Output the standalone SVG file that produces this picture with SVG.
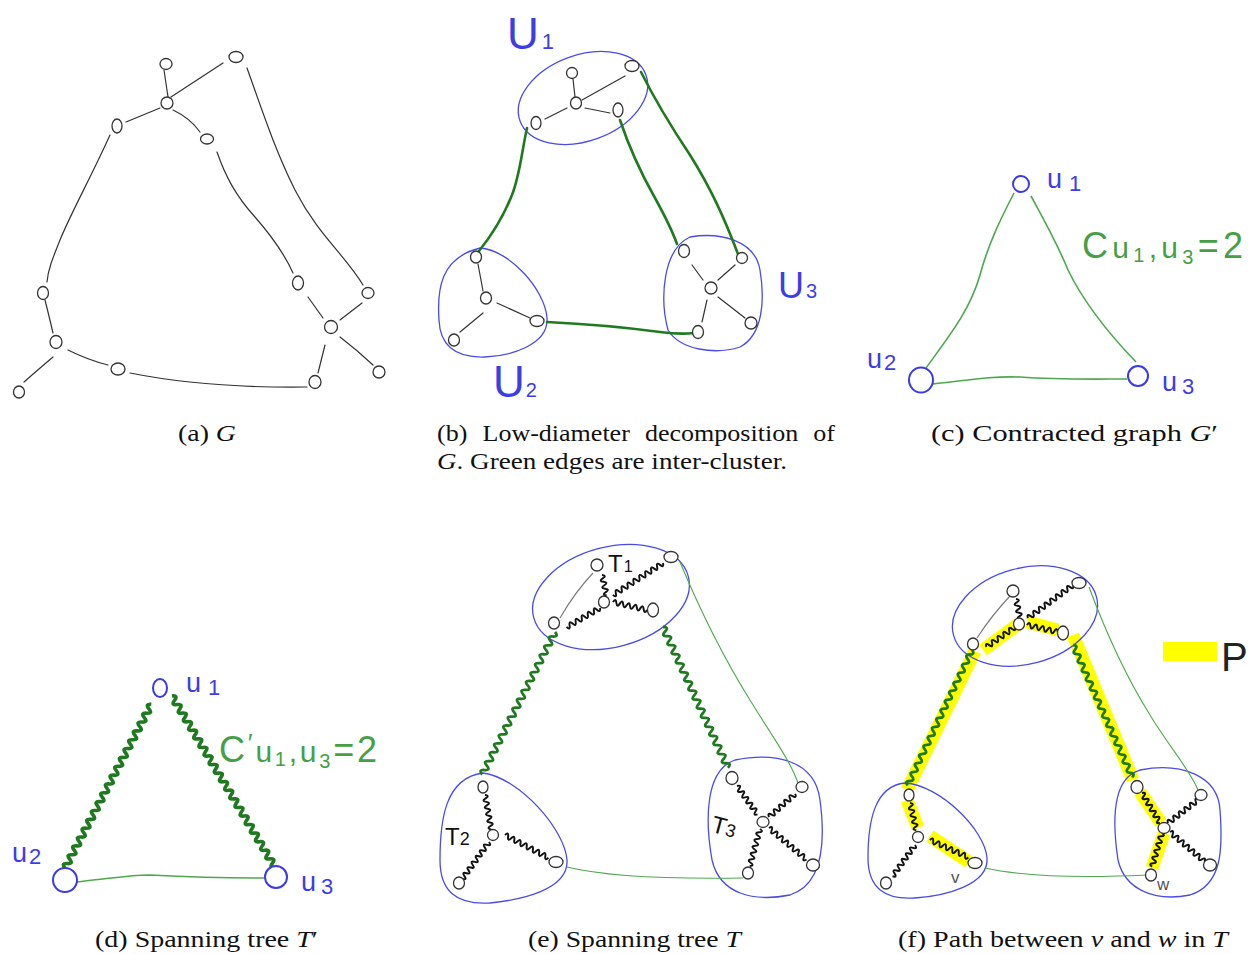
<svg xmlns="http://www.w3.org/2000/svg" width="1248" height="954" viewBox="0 0 1248 954">
<style>
.n{fill:#fff;stroke:#333;stroke-width:1.3}
.e{fill:none;stroke:#333;stroke-width:1.2;stroke-linecap:round}
.grey{fill:none;stroke:#777;stroke-width:1.1}
.cl{fill:none;stroke:#4b4be6;stroke-width:1.3}
.gd{fill:none;stroke:#1f7a1f;stroke-width:2.6;stroke-linecap:round}
.gt{fill:none;stroke:#4ea84e;stroke-width:1.6}
.gtt{fill:none;stroke:#4ea84e;stroke-width:1.1}
.gw{fill:none;stroke:#1f7a1f;stroke-width:3.6;stroke-linejoin:round}
.gw2{fill:none;stroke:#1f7a1f;stroke-width:2.8;stroke-linejoin:round}
.bw{fill:none;stroke:#111;stroke-width:2;stroke-linejoin:round}
.hl{fill:none;stroke:#ffff00;stroke-width:13}
.bn{fill:#fff;stroke:#3a3ae8;stroke-width:2}
.hand{font-family:"Liberation Sans",sans-serif}
.blue{fill:#3d3de8}
.green{fill:#45a045}
.blk{fill:#111}
.cap{font-family:"Liberation Serif",serif;font-size:24px;fill:#111}
</style>

<!-- ===== Panel (a) ===== -->
<g id="panel-a">
  <g id="a-connectors">
    <path class="e" d="M164,70 L168,97"/>
    <path class="e" d="M171,97 L223,63"/>
    <path class="e" d="M160,108 L126,122"/>
    <path class="e" d="M173,110 Q190,118 200,132"/>
    <path class="e" d="M247,68 C262,110 275,150 295,190 C318,235 345,255 363,285"/>
    <path class="e" d="M217,152 C225,175 235,195 255,217 C275,240 285,255 293,273"/>
    <path class="e" d="M110,135 C92,175 70,215 60,240 C52,260 48,270 47,282"/>
    <path class="e" d="M45,300 Q50,320 53,333"/>
    <path class="e" d="M53,357 Q40,368 24,382"/>
    <path class="e" d="M68,350 Q88,360 108,365"/>
    <path class="e" d="M130,373 C175,382 230,388 307,387"/>
    <path class="e" d="M318,373 L325,345"/>
    <path class="e" d="M323,318 L308,297"/>
    <path class="e" d="M340,320 L362,303"/>
    <path class="e" d="M340,337 Q357,350 373,365"/>
  </g>
  <g id="a-n1"><ellipse class="n" cx="236" cy="57" rx="7" ry="5.5"/></g>
  <g id="a-n2"><ellipse class="n" cx="166" cy="64" rx="6" ry="5.5"/></g>
  <g id="a-n3"><ellipse class="n" cx="167" cy="103" rx="6" ry="6"/></g>
  <g id="a-n4"><ellipse class="n" cx="117" cy="126" rx="5" ry="7"/></g>
  <g id="a-n5"><ellipse class="n" cx="207" cy="139" rx="6.5" ry="5"/></g>
  <g id="a-n6"><ellipse class="n" cx="43" cy="293" rx="5.5" ry="6.5"/></g>
  <g id="a-n7"><ellipse class="n" cx="56" cy="342" rx="6" ry="6.5"/></g>
  <g id="a-n8"><ellipse class="n" cx="19" cy="392" rx="5.5" ry="6"/></g>
  <g id="a-n9"><ellipse class="n" cx="118" cy="369" rx="7" ry="6"/></g>
  <g id="a-n10"><ellipse class="n" cx="315" cy="382" rx="6" ry="6.5"/></g>
  <g id="a-n11"><ellipse class="n" cx="331" cy="327" rx="6.5" ry="6.5"/></g>
  <g id="a-n12"><ellipse class="n" cx="298" cy="283" rx="5.5" ry="7"/></g>
  <g id="a-n13"><ellipse class="n" cx="368" cy="293" rx="6" ry="5.5"/></g>
  <g id="a-n14"><ellipse class="n" cx="379" cy="372" rx="6" ry="6"/></g>
</g>

<!-- ===== Panel (b) ===== -->
<g id="panel-b">
  <g id="b-clusters">
    <ellipse class="cl" cx="583" cy="98" rx="67" ry="43" transform="rotate(-20 583 98)"/>
    <path class="cl" d="M480,248 C510,250 545,290 547,318 C549,345 510,356 485,357 C455,358 440,345 439,320 C437,290 440,258 480,248 Z"/>
    <path class="cl" d="M690,237 C720,232 755,240 760,270 C765,300 763,335 740,347 C715,355 680,350 668,330 C660,300 662,250 690,237 Z"/>
  </g>
  <g id="b-connectors">
    <path class="e" d="M573,79 L575,97"/>
    <path class="e" d="M582,100 L625,76"/>
    <path class="e" d="M585,108 L610,113"/>
    <path class="e" d="M567,108 L545,119"/>
    <path class="e" d="M478,264 L483,291"/>
    <path class="e" d="M497,303 L530,318"/>
    <path class="e" d="M483,313 L460,332"/>
    <path class="e" d="M692,265 L703,280"/>
    <path class="e" d="M735,265 L718,280"/>
    <path class="e" d="M707,300 L702,322"/>
    <path class="e" d="M718,297 L745,318"/>
    <path class="gd" d="M527,128 C522,150 520,175 512,195 C502,220 492,235 479,251"/>
    <path class="gd" d="M620,120 C630,150 642,175 655,198 C666,218 672,230 677,244"/>
    <path class="gd" d="M641,72 C655,100 670,125 690,155 C712,190 725,220 738,254"/>
    <path class="gd" d="M547,322 C590,324 630,328 660,332 C675,334 685,334 694,333"/>
  </g>
  <g id="b-n1"><ellipse class="n" cx="572" cy="73" rx="5.5" ry="5.5"/></g>
  <g id="b-n2"><ellipse class="n" cx="576" cy="103" rx="5.5" ry="6"/></g>
  <g id="b-n3"><ellipse class="n" cx="632" cy="66" rx="7" ry="5.5"/></g>
  <g id="b-n4"><ellipse class="n" cx="618" cy="110" rx="5" ry="7"/></g>
  <g id="b-n5"><ellipse class="n" cx="536" cy="123" rx="5" ry="6.5"/></g>
  <g id="b-n6"><ellipse class="n" cx="476" cy="257" rx="5.5" ry="6"/></g>
  <g id="b-n7"><ellipse class="n" cx="486" cy="298" rx="5.5" ry="6"/></g>
  <g id="b-n8"><ellipse class="n" cx="537" cy="321" rx="7" ry="5.5"/></g>
  <g id="b-n9"><ellipse class="n" cx="454" cy="340" rx="5.5" ry="6"/></g>
  <g id="b-n10"><ellipse class="n" cx="684" cy="251" rx="5.5" ry="6.5"/></g>
  <g id="b-n11"><ellipse class="n" cx="742" cy="258" rx="5.5" ry="5.5"/></g>
  <g id="b-n12"><ellipse class="n" cx="711" cy="288" rx="6" ry="6"/></g>
  <g id="b-n13"><ellipse class="n" cx="698" cy="332" rx="5.5" ry="6.5"/></g>
  <g id="b-n14"><ellipse class="n" cx="751" cy="323" rx="6" ry="6"/></g>
  <g id="b-labels">
    <text class="hand blue" x="507" y="49" font-size="44">U<tspan font-size="22" dx="3">1</tspan></text>
    <text class="hand blue" x="493" y="397" font-size="44">U<tspan font-size="20" dx="1">2</tspan></text>
    <text class="hand blue" x="778" y="298" font-size="36">U<tspan font-size="20" dx="2">3</tspan></text>
  </g>
</g>

<!-- ===== Panel (c) ===== -->
<g id="panel-c">
  <g id="c-connectors">
    <path class="gt" d="M1014,193 C1000,220 988,245 980,275 C970,310 950,335 926,368"/>
    <path class="gt" d="M1031,196 C1045,222 1058,245 1068,270 C1085,305 1110,335 1136,362"/>
    <path class="gt" d="M933,384 C970,380 990,376 1020,377 C1060,380 1100,379 1127,379"/>
  </g>
  <g id="c-u1"><circle class="bn" cx="1021" cy="184" r="8"/></g>
  <g id="c-u2"><ellipse class="bn" cx="921" cy="380" rx="12" ry="12.5"/></g>
  <g id="c-u3"><circle class="bn" cx="1138" cy="376" r="10"/></g>
  <g id="c-labels">
    <text class="hand blue" x="1047" y="188" font-size="27">u<tspan font-size="22" dx="7" dy="3">1</tspan></text>
    <text class="hand blue" x="867" y="368" font-size="27">u<tspan font-size="22" dx="2" dy="2">2</tspan></text>
    <text class="hand blue" x="1162" y="391" font-size="27">u<tspan font-size="22" dx="5" dy="3">3</tspan></text>
    <text class="hand green" x="1082" y="258" font-size="36" textLength="161" lengthAdjust="spacing">C<tspan font-size="30">u</tspan><tspan font-size="20" dy="4">1</tspan><tspan font-size="30" dy="-4">,u</tspan><tspan font-size="20" dy="6">3</tspan><tspan dy="-6">=2</tspan></text>
  </g>
</g>

<!-- ===== Panel (d) ===== -->
<g id="panel-d">
  <g id="d-connectors">
    <path class="gw" transform="translate(65,868) rotate(-62.2)" d="M0,0 q2.5,-6 5,0 t5,0 t5,0 t5,0 t5,0 t5,0 t5,0 t5,0 t5,0 t5,0 t5,0 t5,0 t5,0 t5,0 t5,0 t5,0 t5,0 t5,0 t5,0 t5,0 t5,0 t5,0 t5,0 t5,0 t5,0 t5,0 t5,0 t5,0 t5,0 t5,0 t5,0 t5,0 t5,0 t5,0 t5,0 t5,0 t5,0"/>
    <path class="gw" transform="translate(172,696) rotate(59)" d="M0,0 q2.5,-6 5,0 t5,0 t5,0 t5,0 t5,0 t5,0 t5,0 t5,0 t5,0 t5,0 t5,0 t5,0 t5,0 t5,0 t5,0 t5,0 t5,0 t5,0 t5,0 t5,0 t5,0 t5,0 t5,0 t5,0 t5,0 t5,0 t5,0 t5,0 t5,0 t5,0 t5,0 t5,0 t5,0 t5,0 t5,0 t5,0 t5,0 t5,0 t5,0 t5,0"/>
    <path class="gt" d="M77,882 C105,879 130,875 150,875 C190,877 230,878 264,878"/>
  </g>
  <g id="d-u1"><ellipse class="bn" cx="160" cy="688" rx="7" ry="9"/></g>
  <g id="d-u2"><circle class="bn" cx="65" cy="880" r="12"/></g>
  <g id="d-u3"><circle class="bn" cx="276" cy="877" r="11"/></g>
  <g id="d-labels">
    <text class="hand blue" x="186" y="692" font-size="27">u<tspan font-size="22" dx="7" dy="3">1</tspan></text>
    <text class="hand blue" x="12" y="862" font-size="27">u<tspan font-size="22" dx="2" dy="2">2</tspan></text>
    <text class="hand blue" x="301" y="891" font-size="27">u<tspan font-size="22" dx="5" dy="3">3</tspan></text>
    <text class="hand green" x="219" y="762" font-size="36" textLength="158" lengthAdjust="spacing">C<tspan font-size="26" dy="-10">′</tspan><tspan font-size="30" dy="10">u</tspan><tspan font-size="20" dy="4">1</tspan><tspan font-size="30" dy="-4">,u</tspan><tspan font-size="20" dy="6">3</tspan><tspan dy="-6">=2</tspan></text>
  </g>
</g>

<!-- ===== Panel (e) ===== -->
<g id="panel-e">
  <g id="e-clusters">
    <ellipse class="cl" cx="611" cy="597" rx="80" ry="50" transform="rotate(-15 611 597)"/>
    <path class="cl" d="M483,773 C520,778 565,830 567,860 C569,890 520,900 490,903 C455,905 440,890 440,860 C440,820 445,778 483,773 Z"/>
    <path class="cl" d="M735,760 C775,752 815,760 820,800 C826,845 822,885 790,895 C755,902 720,895 712,860 C705,820 705,770 735,760 Z"/>
  </g>
  <g id="e-connectors">
    <path class="grey" d="M593,573 Q575,592 560,618"/>
    <path class="bw" transform="translate(602,575) rotate(77.2)" d="M0,0 q1.75,-5 3.5,0 t3.5,0 t3.5,0 t3.5,0 t3.5,0 t3.5,0"/>
    <path class="bw" transform="translate(600,608) rotate(150.3)" d="M0,0 q1.75,-5 3.5,0 t3.5,0 t3.5,0 t3.5,0 t3.5,0 t3.5,0 t3.5,0 t3.5,0 t3.5,0 t3.5,0 t3.5,0"/>
    <path class="bw" transform="translate(663,563) rotate(147.4)" d="M0,0 q1.75,-5 3.5,0 t3.5,0 t3.5,0 t3.5,0 t3.5,0 t3.5,0 t3.5,0 t3.5,0 t3.5,0 t3.5,0 t3.5,0 t3.5,0 t3.5,0 t3.5,0 t3.5,0 t3.5,0 t3.5,0"/>
    <path class="bw" transform="translate(613,602) rotate(13.2)" d="M0,0 q1.75,-5 3.5,0 t3.5,0 t3.5,0 t3.5,0 t3.5,0 t3.5,0 t3.5,0 t3.5,0 t3.5,0 t3.5,0"/>
    <path class="bw" transform="translate(485,795) rotate(79.7)" d="M0,0 q1.75,-5 3.5,0 t3.5,0 t3.5,0 t3.5,0 t3.5,0 t3.5,0 t3.5,0 t3.5,0 t3.5,0 t3.5,0"/>
    <path class="bw" transform="translate(489,842) rotate(125.8)" d="M0,0 q1.75,-5 3.5,0 t3.5,0 t3.5,0 t3.5,0 t3.5,0 t3.5,0 t3.5,0 t3.5,0 t3.5,0 t3.5,0 t3.5,0 t3.5,0 t3.5,0"/>
    <path class="bw" transform="translate(505,835) rotate(27.6)" d="M0,0 q1.75,-5 3.5,0 t3.5,0 t3.5,0 t3.5,0 t3.5,0 t3.5,0 t3.5,0 t3.5,0 t3.5,0 t3.5,0 t3.5,0 t3.5,0 t3.5,0 t3.5,0"/>
    <path class="bw" transform="translate(737,786) rotate(54.1)" d="M0,0 q1.75,-5 3.5,0 t3.5,0 t3.5,0 t3.5,0 t3.5,0 t3.5,0 t3.5,0 t3.5,0 t3.5,0 t3.5,0"/>
    <path class="bw" transform="translate(769,817) rotate(-41.6)" d="M0,0 q1.75,-5 3.5,0 t3.5,0 t3.5,0 t3.5,0 t3.5,0 t3.5,0 t3.5,0 t3.5,0 t3.5,0 t3.5,0"/>
    <path class="bw" transform="translate(760,829) rotate(105.5)" d="M0,0 q1.75,-5 3.5,0 t3.5,0 t3.5,0 t3.5,0 t3.5,0 t3.5,0 t3.5,0 t3.5,0 t3.5,0 t3.5,0 t3.5,0"/>
    <path class="bw" transform="translate(769,828) rotate(40)" d="M0,0 q1.75,-5 3.5,0 t3.5,0 t3.5,0 t3.5,0 t3.5,0 t3.5,0 t3.5,0 t3.5,0 t3.5,0 t3.5,0 t3.5,0 t3.5,0 t3.5,0 t3.5,0"/>
    <path class="gw2" transform="translate(555,632) rotate(117.05)" d="M0,0 q2.5,-6 5,0 t5,0 t5,0 t5,0 t5,0 t5,0 t5,0 t5,0 t5,0 t5,0 t5,0 t5,0 t5,0 t5,0 t5,0 t5,0 t5,0 t5,0 t5,0 t5,0 t5,0 t5,0 t5,0 t5,0 t5,0 t5,0 t5,0 t5,0 t5,0 t5,0 t5,0 t5,0"/>
    <path class="gw2" transform="translate(663,627) rotate(65.25)" d="M0,0 q2.5,-6 5,0 t5,0 t5,0 t5,0 t5,0 t5,0 t5,0 t5,0 t5,0 t5,0 t5,0 t5,0 t5,0 t5,0 t5,0 t5,0 t5,0 t5,0 t5,0 t5,0 t5,0 t5,0 t5,0 t5,0 t5,0 t5,0 t5,0 t5,0 t5,0 t5,0 t5,0"/>
    <path class="gtt" d="M680,562 C700,610 725,660 750,700 C770,733 790,760 798,783"/>
    <path class="gtt" d="M567,867 Q620,880 743,878"/>
  </g>
  <g id="e-n1"><ellipse class="n" cx="597" cy="565" rx="6" ry="6"/></g>
  <g id="e-n2"><ellipse class="n" cx="671" cy="557" rx="7" ry="5.5"/></g>
  <g id="e-n3"><ellipse class="n" cx="604" cy="602" rx="5.5" ry="6"/></g>
  <g id="e-n4"><ellipse class="n" cx="653" cy="610" rx="5.5" ry="7"/></g>
  <g id="e-n5"><ellipse class="n" cx="554" cy="623" rx="5.5" ry="6"/></g>
  <g id="e-n6"><ellipse class="n" cx="483" cy="787" rx="5" ry="6"/></g>
  <g id="e-n7"><ellipse class="n" cx="493" cy="835" rx="5.5" ry="5.5"/></g>
  <g id="e-n8"><ellipse class="n" cx="556" cy="862" rx="7" ry="5.5"/></g>
  <g id="e-n9"><ellipse class="n" cx="459" cy="883" rx="5.5" ry="6"/></g>
  <g id="e-n10"><ellipse class="n" cx="732" cy="778" rx="6" ry="6.5"/></g>
  <g id="e-n11"><ellipse class="n" cx="802" cy="787" rx="6" ry="5.5"/></g>
  <g id="e-n12"><ellipse class="n" cx="763" cy="822" rx="6" ry="5.5"/></g>
  <g id="e-n13"><ellipse class="n" cx="748" cy="873" rx="5.5" ry="6"/></g>
  <g id="e-n14"><ellipse class="n" cx="813" cy="865" rx="6.5" ry="6"/></g>
  <g id="e-labels">
    <text class="hand blk" x="608" y="572" font-size="24">T<tspan font-size="16" dx="1">1</tspan></text>
    <text class="hand blk" x="445" y="845" font-size="24">T<tspan font-size="18" dx="0">2</tspan></text>
    <text class="hand blk" x="712" y="836" font-size="24" transform="rotate(15 728 826)">T<tspan font-size="18" dx="0">3</tspan></text>
  </g>
</g>

<!-- ===== Panel (f) ===== -->
<g id="panel-f">
  <g id="f-highlights">
    <path class="hl" d="M975,651 L907,790"/>
    <path class="hl" d="M1073,635 L1133,780"/>
    <path class="hl" d="M983,650 L1017,625" stroke-width="11"/>
    <path class="hl" d="M1027,622 L1058,630" stroke-width="14"/>
    <path class="hl" d="M907,800 L918,828" stroke-width="11"/>
    <path class="hl" d="M930,836 L969,862" stroke-width="14"/>
    <path class="hl" d="M1140,792 L1161,823" stroke-width="11"/>
    <path class="hl" d="M1164,833 L1152,868" stroke-width="11"/>
  </g>
  <g id="f-clusters">
    <ellipse class="cl" cx="1025" cy="616" rx="74" ry="48" transform="rotate(-15 1025 616)"/>
    <path class="cl" d="M905,783 C940,785 985,830 987,858 C989,885 945,896 915,898 C885,900 868,888 868,858 C868,820 875,786 905,783 Z"/>
    <path class="cl" d="M1140,770 C1180,762 1218,775 1220,810 C1223,850 1222,885 1190,895 C1155,902 1125,890 1118,860 C1112,820 1112,778 1140,770 Z"/>
  </g>
  <g id="f-connectors">
    <path class="grey" d="M1010,596 Q992,615 977,638"/>
    <path class="bw" transform="translate(1016,599) rotate(78)" d="M0,0 q1.75,-5 3.5,0 t3.5,0 t3.5,0 t3.5,0 t3.5,0 t3.5,0"/>
    <path class="bw" transform="translate(1015,627) rotate(145)" d="M0,0 q1.75,-5 3.5,0 t3.5,0 t3.5,0 t3.5,0 t3.5,0 t3.5,0 t3.5,0 t3.5,0 t3.5,0 t3.5,0"/>
    <path class="bw" transform="translate(1073,585) rotate(143.7)" d="M0,0 q1.75,-5 3.5,0 t3.5,0 t3.5,0 t3.5,0 t3.5,0 t3.5,0 t3.5,0 t3.5,0 t3.5,0 t3.5,0 t3.5,0 t3.5,0 t3.5,0 t3.5,0 t3.5,0 t3.5,0"/>
    <path class="bw" transform="translate(1027,625) rotate(12.7)" d="M0,0 q1.75,-5 3.5,0 t3.5,0 t3.5,0 t3.5,0 t3.5,0 t3.5,0 t3.5,0 t3.5,0 t3.5,0"/>
    <path class="bw" transform="translate(910,803) rotate(77)" d="M0,0 q1.75,-5 3.5,0 t3.5,0 t3.5,0 t3.5,0 t3.5,0 t3.5,0 t3.5,0 t3.5,0"/>
    <path class="bw" transform="translate(915,845) rotate(125.7)" d="M0,0 q1.75,-5 3.5,0 t3.5,0 t3.5,0 t3.5,0 t3.5,0 t3.5,0 t3.5,0 t3.5,0 t3.5,0 t3.5,0 t3.5,0"/>
    <path class="bw" transform="translate(930,840) rotate(24.2)" d="M0,0 q1.75,-5 3.5,0 t3.5,0 t3.5,0 t3.5,0 t3.5,0 t3.5,0 t3.5,0 t3.5,0 t3.5,0 t3.5,0 t3.5,0 t3.5,0"/>
    <path class="bw" transform="translate(1142,793) rotate(59)" d="M0,0 q1.75,-5 3.5,0 t3.5,0 t3.5,0 t3.5,0 t3.5,0 t3.5,0 t3.5,0 t3.5,0 t3.5,0 t3.5,0"/>
    <path class="bw" transform="translate(1168,823) rotate(-37.5)" d="M0,0 q1.75,-5 3.5,0 t3.5,0 t3.5,0 t3.5,0 t3.5,0 t3.5,0 t3.5,0 t3.5,0 t3.5,0 t3.5,0 t3.5,0"/>
    <path class="bw" transform="translate(1162,833) rotate(106.4)" d="M0,0 q1.75,-5 3.5,0 t3.5,0 t3.5,0 t3.5,0 t3.5,0 t3.5,0 t3.5,0 t3.5,0 t3.5,0 t3.5,0"/>
    <path class="bw" transform="translate(1170,832) rotate(40.6)" d="M0,0 q1.75,-5 3.5,0 t3.5,0 t3.5,0 t3.5,0 t3.5,0 t3.5,0 t3.5,0 t3.5,0 t3.5,0 t3.5,0 t3.5,0 t3.5,0 t3.5,0"/>
    <path class="gw2" stroke-width="2.5" transform="translate(972,650) rotate(115.4)" d="M0,0 q2.5,-5 5,0 t5,0 t5,0 t5,0 t5,0 t5,0 t5,0 t5,0 t5,0 t5,0 t5,0 t5,0 t5,0 t5,0 t5,0 t5,0 t5,0 t5,0 t5,0 t5,0 t5,0 t5,0 t5,0 t5,0 t5,0 t5,0 t5,0 t5,0 t5,0 t5,0"/>
    <path class="gw2" stroke-width="2.5" transform="translate(1073,645) rotate(65.9)" d="M0,0 q2.5,-5 5,0 t5,0 t5,0 t5,0 t5,0 t5,0 t5,0 t5,0 t5,0 t5,0 t5,0 t5,0 t5,0 t5,0 t5,0 t5,0 t5,0 t5,0 t5,0 t5,0 t5,0 t5,0 t5,0 t5,0 t5,0 t5,0 t5,0 t5,0 t5,0"/>
    <path class="gtt" d="M1089,587 C1105,630 1125,675 1150,715 C1170,748 1190,770 1198,790"/>
    <path class="gtt" d="M985,868 Q1040,880 1147,875"/>
  </g>
  <g id="f-n1"><ellipse class="n" cx="1013" cy="591" rx="6" ry="6"/></g>
  <g id="f-n2"><ellipse class="n" cx="1079" cy="583" rx="7" ry="5.5"/></g>
  <g id="f-n3"><ellipse class="n" cx="1019" cy="624" rx="5.5" ry="6"/></g>
  <g id="f-n4"><ellipse class="n" cx="1063" cy="633" rx="5.5" ry="7"/></g>
  <g id="f-n5"><ellipse class="n" cx="973" cy="644" rx="5.5" ry="6"/></g>
  <g id="f-n6"><ellipse class="n" cx="909" cy="795" rx="5" ry="6"/></g>
  <g id="f-n7"><ellipse class="n" cx="918" cy="837" rx="5.5" ry="5.5"/></g>
  <g id="f-v"><ellipse class="n" cx="975" cy="863" rx="7" ry="5.5"/></g>
  <g id="f-n9"><ellipse class="n" cx="886" cy="883" rx="5.5" ry="6"/></g>
  <g id="f-n10"><ellipse class="n" cx="1137" cy="787" rx="6" ry="6.5"/></g>
  <g id="f-n11"><ellipse class="n" cx="1201" cy="795" rx="6" ry="5.5"/></g>
  <g id="f-n12"><ellipse class="n" cx="1164" cy="828" rx="6" ry="5.5"/></g>
  <g id="f-w"><ellipse class="n" cx="1151" cy="875" rx="5.5" ry="6"/></g>
  <g id="f-n14"><ellipse class="n" cx="1210" cy="865" rx="6.5" ry="6"/></g>
  <g id="f-labels">
    <text class="hand" x="951" y="883" font-size="17" fill="#555">v</text>
    <text class="hand" x="1157" y="890" font-size="17" fill="#555">w</text>
  </g>
  <g id="f-legend">
    <rect x="1163" y="642" width="54" height="19" fill="#ffff00"/>
    <text class="hand" x="1221" y="671" font-size="40" fill="#222">P</text>
  </g>
</g>

<!-- ===== Captions ===== -->
<g id="captions">
  <text class="cap" x="178" y="441" textLength="58" lengthAdjust="spacingAndGlyphs">(a) <tspan font-style="italic">G</tspan></text>
  <text class="cap" x="437" y="441" word-spacing="8" textLength="398" lengthAdjust="spacingAndGlyphs">(b) Low-diameter decomposition of</text>
  <text class="cap" x="437" y="469" textLength="350" lengthAdjust="spacingAndGlyphs"><tspan font-style="italic">G</tspan>. Green edges are inter-cluster.</text>
  <text class="cap" x="931" y="441" textLength="287" lengthAdjust="spacingAndGlyphs">(c) Contracted graph <tspan font-style="italic">G</tspan>′</text>
  <text class="cap" x="95" y="947" textLength="223" lengthAdjust="spacingAndGlyphs">(d) Spanning tree <tspan font-style="italic">T</tspan>′</text>
  <text class="cap" x="528" y="947" textLength="213" lengthAdjust="spacingAndGlyphs">(e) Spanning tree <tspan font-style="italic">T</tspan></text>
  <text class="cap" x="898" y="947" textLength="330" lengthAdjust="spacingAndGlyphs">(f) Path between <tspan font-style="italic">v</tspan> and <tspan font-style="italic">w</tspan> in <tspan font-style="italic">T</tspan></text>
</g>
</svg>
